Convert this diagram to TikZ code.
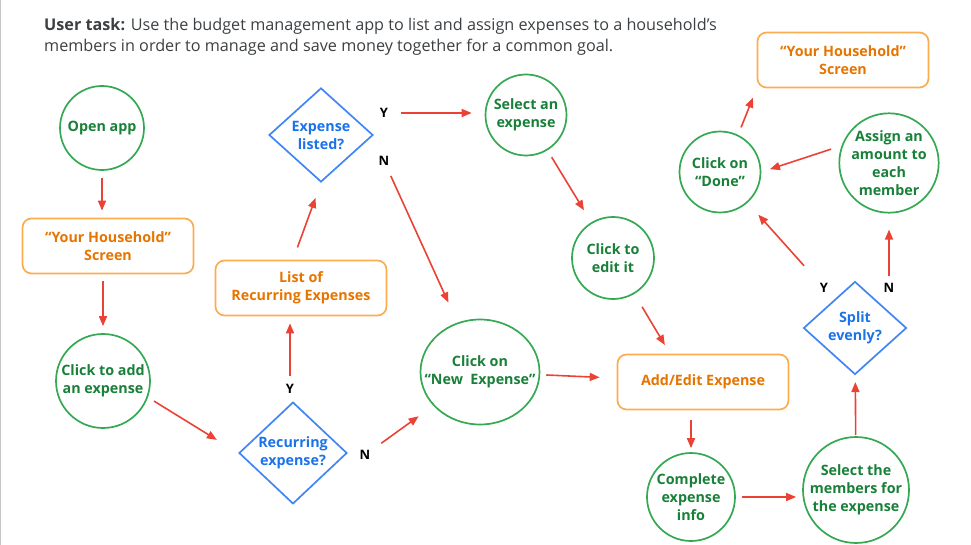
\documentclass[tikz,border=0pt]{standalone}
\usepackage{fontspec}
\setmainfont{Open Sans}
\usetikzlibrary{arrows.meta,positioning,shapes.geometric}
\definecolor{verde}{RGB}{52,168,83}
\definecolor{verdet}{RGB}{24,128,56}
\definecolor{naranja}{RGB}{251,172,80}
\definecolor{naranjat}{RGB}{230,116,0}
\definecolor{azul}{RGB}{66,133,244}
\definecolor{azult}{RGB}{26,115,232}
\definecolor{rojo}{RGB}{234,67,53}
\definecolor{grist}{RGB}{60,64,67}
\tikzset{
  paso/.style={draw=verde, circle, line width=1.7pt, align=center, inner sep=0pt, text=verdet, font=\fontsize{14.3}{18}\selectfont\bfseries},
  pantalla/.style={draw=naranja, rectangle, rounded corners=9pt, line width=1.7pt, align=center, minimum width=171, minimum height=55, text=naranjat, font=\fontsize{14.3}{18}\selectfont\bfseries},
  pregunta/.style={draw=azul, diamond, line width=1.7pt, align=center, inner sep=0pt, minimum width=108, minimum height=97, text=azult, font=\fontsize{14.3}{18}\selectfont\bfseries},
  etq/.style={font=\fontsize{13}{14}\selectfont\bfseries, text=black, inner sep=1pt},
  fl/.style={-{Triangle[length=10pt,width=8pt]}, line width=1.6pt, rojo, shorten <=7pt, shorten >=7pt},
}

\begin{document}
\begin{tikzpicture}[x=1pt, y=-1pt]
  \useasboundingbox (0,0) rectangle (971,545);
  \draw[gray!45, line width=1pt] (0.5,0) -- (0.5,545);
  \node[anchor=north west, align=left, text=grist, inner sep=0pt, font=\fontsize{16.2}{21}\selectfont] (tarea) at (44,18)
    {\textbf{User task:} Use the budget management app to list and assign expenses to a household’s\\
     members in order to manage and save money together for a common goal.};
  % left column
  \node[paso, minimum size=84] (abrir) at (102,128) {Open app};
  \node[pantalla] (casa1) at (108,246) {“Your Household”\\Screen};
  \node[paso, minimum size=94] (agregar) at (103,381) {Click to add\\an expense};
  \node[pregunta] (recur) at (293,453) {Recurring\\expense?};
  \node[pantalla] (lista) at (301,288) {List of\\Recurring Expenses};
  \node[pregunta, minimum width=104, minimum height=94] (listado) at (321,135) {Expense\\listed?};
  % middle
  \node[paso, minimum size=81] (elegir) at (526,115) {Select an\\expense};
  \node[paso, minimum size=82] (editar) at (613,258) {Click to\\edit it};
  \node[paso, ellipse, inner xsep=-14pt, minimum width=119, minimum height=105] (nuevo) at (480,372) {Click on\\“New\ \ Expense”};
  \node[pantalla] (edicion) at (703,382) {Add/Edit Expense};
  % right
  \node[paso, minimum size=88] (completar) at (691,497) {Complete\\expense\\info};
  \node[paso, minimum size=106] (miembros) at (856,490) {Select the\\members for\\the expense};
  \node[pregunta, minimum width=103, minimum height=93] (dividir) at (855,328) {Split\\evenly?};
  \node[paso, minimum size=81] (listo) at (720,172) {Click on\\“Done”};
  \node[paso, minimum size=97] (asignar) at (889,163) {Assign an\\amount to\\each\\member};
  \node[pantalla] (casa2) at (843,60) {“Your Household”\\Screen};
  % Y / N
  \node[etq] (si1) at (384,113) {Y};
  \node[etq] (no1) at (384,161) {N};
  \node[etq] (si2) at (290,389) {Y};
  \node[etq] (no2) at (365,455) {N};
  \node[etq] (si3) at (824,288) {Y};
  \node[etq] (no3) at (889,288) {N};
  % arrows
  \draw[fl] (abrir) -- (abrir |- casa1.north);
  \draw[fl] (casa1.south -| agregar) -- (agregar);
  \draw[fl, shorten >=25pt] (agregar.-20) -- (recur.west);
  \draw[fl] (si2) -- (si2 |- lista.south);
  \draw[fl, shorten <=13pt, shorten >=16pt] ([xshift=-8pt]lista.north) -- (listado.south);
  \draw[fl, shorten <=12pt, shorten >=13pt] (si1) -- (si1 -| elegir.west);
  \draw[fl, shorten <=10pt, shorten >=22pt] (no1) -- (nuevo);
  \draw[fl, shorten <=12pt, shorten >=18pt] (no2) -- (nuevo);
  \draw[fl, shorten <=6pt, shorten >=17pt] (nuevo) -- (edicion);
  \draw[fl, shorten <=8pt, shorten >=14pt] (elegir) -- (editar);
  \draw[fl, shorten <=15pt, shorten >=10pt] (editar) -- ([xshift=-33pt]edicion.north);
  \draw[fl, shorten <=10pt, shorten >=4pt] (edicion.south -| completar) -- (completar);
  \draw[fl, shorten <=6pt, shorten >=6pt] (completar.east) -- (completar.east -| miembros.west);
  \draw[fl, shorten <=1pt] (miembros) -- (dividir);
  \draw[fl, shorten <=22pt, shorten >=16pt] (si3) -- (listo);
  \draw[fl, shorten <=6pt, shorten >=16pt] (no3) -- (asignar);
  \draw[fl, shorten <=11pt, shorten >=9pt] (asignar.160) -- (listo.east);
  \draw[fl, shorten <=8pt, shorten >=10pt] (listo.64) -- (casa2.south west);
\end{tikzpicture}
\end{document}
